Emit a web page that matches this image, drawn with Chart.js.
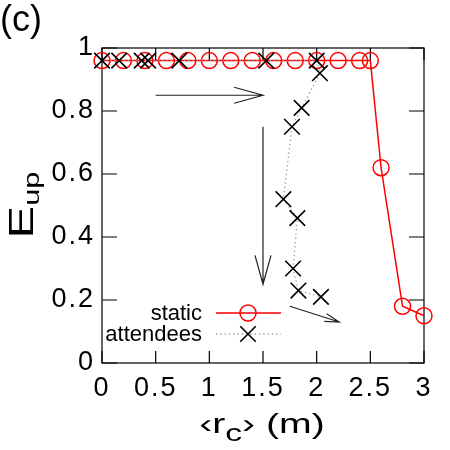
<!DOCTYPE html>
<html>
<head>
<meta charset="utf-8">
<script src="https://cdn.jsdelivr.net/npm/chart.js@4/dist/chart.umd.min.js"></script>
<style>
  html, body { margin: 0; padding: 0; background: #fff; }
  #wrap { width: 450px; height: 450px; }
</style>
</head>
<body>
<div id="wrap"><canvas id="eupChart"></canvas></div>
<script>
// <r_c> (m) and E_up for the static case
const rStatic = [0, 0.2, 0.4, 0.6, 0.8, 1.0, 1.2, 1.4, 1.6, 1.8, 2.0, 2.2, 2.4, 2.5, 2.6, 2.8, 3.0];
const eupStatic = [0.96, 0.96, 0.96, 0.96, 0.96, 0.96, 0.96, 0.96, 0.96, 0.96, 0.96, 0.96, 0.96, 0.96, 0.62, 0.18, 0.15];

// attendees
const rAttendees = [0, 0.16, 0.37, 0.43, 0.72, 1.53, 2.0, 2.03, 1.86, 1.77, 1.69, 1.82, 1.78, 1.83, 2.04];
const eupAttendees = [0.96, 0.96, 0.96, 0.96, 0.96, 0.96, 0.96, 0.92, 0.81, 0.75, 0.52, 0.46, 0.30, 0.23, 0.21];

const xTickValues = [0, 0.5, 1, 1.5, 2, 2.5, 3];
const xTickLabels = ['0', '0.5', '1', '1.5', '2', '2.5', '3'];
const yTickValues = [0, 0.2, 0.4, 0.6, 0.8, 1];
const yTickLabels = ['0', '0.2', '0.4', '0.6', '0.8', '1'];

// arrows on the plot, in data units: from (x0,y0) to (x1,y1)
const arrows = [
    { x0: 0.5, y0: 0.85, x1: 1.5, y1: 0.85, head: 30 },
    { x0: 1.5, y0: 0.75, x1: 1.5, y1: 0.25, head: 30 },
    { x0: 1.75, y0: 0.18, x1: 2.21, y1: 0.13, head: 15 }
];

const FONT = "'Liberation Sans', Arial, sans-serif";

// draws text stretched along its direction, like the gnuplot output
function wideText(ctx, str, x, y, size, sx) {
    ctx.save();
    ctx.font = size + 'px ' + FONT;
    ctx.translate(x, y);
    ctx.scale(sx, 1);
    ctx.fillText(str, 0, 0);
    ctx.restore();
    ctx.font = size + 'px ' + FONT;
    return ctx.measureText(str).width * sx;
}

function textWidth(ctx, str, size, sx) {
    ctx.font = size + 'px ' + FONT;
    return ctx.measureText(str).width * sx;
}

const boxPlugin = {
    id: 'box',
    beforeDraw(chart) {
        chart.ctx.letterSpacing = '2px';
    },
    beforeDatasetsDraw(chart) {
        const { ctx, chartArea: a, scales: { x, y } } = chart;
        ctx.save();
        ctx.strokeStyle = '#000';
        ctx.lineWidth = 1.2;
        ctx.strokeRect(a.left, a.top, a.right - a.left, a.bottom - a.top);
        ctx.beginPath();
        xTickValues.forEach(v => {
            const px = x.getPixelForValue(v);
            ctx.moveTo(px, a.bottom); ctx.lineTo(px, a.bottom - 12);
            ctx.moveTo(px, a.top); ctx.lineTo(px, a.top + 12);
        });
        yTickValues.forEach(v => {
            const py = y.getPixelForValue(v);
            ctx.moveTo(a.left, py); ctx.lineTo(a.left + 15, py);
            ctx.moveTo(a.right, py); ctx.lineTo(a.right - 15, py);
        });
        ctx.stroke();
        ctx.restore();
    },
    afterDraw(chart) {
        const { ctx, scales: { x, y } } = chart;
        ctx.save();
        ctx.letterSpacing = '0px';

        // arrows
        ctx.strokeStyle = '#222';
        ctx.lineWidth = 1.2;
        arrows.forEach(ar => {
            const ax = x.getPixelForValue(ar.x0), ay = y.getPixelForValue(ar.y0);
            const bx = x.getPixelForValue(ar.x1), by = y.getPixelForValue(ar.y1);
            const ang = Math.atan2(by - ay, bx - ax);
            const spread = 0.27;
            ctx.beginPath();
            ctx.moveTo(ax, ay); ctx.lineTo(bx, by);
            ctx.moveTo(bx - ar.head * Math.cos(ang - spread), by - ar.head * Math.sin(ang - spread));
            ctx.lineTo(bx, by);
            ctx.lineTo(bx - ar.head * Math.cos(ang + spread), by - ar.head * Math.sin(ang + spread));
            ctx.stroke();
        });

        // legend
        const ds = chart.data.datasets;
        ctx.fillStyle = '#000';
        ctx.textAlign = 'right';
        ctx.textBaseline = 'alphabetic';
        ctx.font = '22px ' + FONT;
        ctx.fillText('static', 202, 320);
        ctx.fillText('attendees', 202, 341);
        ctx.textAlign = 'left';

        ctx.strokeStyle = ds[0].borderColor;
        ctx.lineWidth = ds[0].borderWidth;
        ctx.beginPath(); ctx.moveTo(216, 313); ctx.lineTo(281, 313); ctx.stroke();
        ctx.fillStyle = 'rgba(0,0,0,0)';
        ctx.lineWidth = ds[0].pointBorderWidth;
        Chart.helpers.drawPoint(ctx, {
            pointStyle: 'circle', radius: ds[0].pointRadius, borderWidth: ds[0].pointBorderWidth, rotation: 0
        }, 248, 313);

        ctx.strokeStyle = ds[1].borderColor;
        ctx.lineWidth = ds[1].borderWidth;
        ctx.setLineDash(ds[1].borderDash);
        ctx.beginPath(); ctx.moveTo(216, 334); ctx.lineTo(281, 334); ctx.stroke();
        ctx.setLineDash([]);
        ctx.strokeStyle = '#000';
        ctx.lineWidth = ds[1].pointBorderWidth;
        Chart.helpers.drawPoint(ctx, {
            pointStyle: 'crossRot', radius: ds[1].pointRadius, borderWidth: ds[1].pointBorderWidth, rotation: 0
        }, 248, 334);

        // panel tag
        ctx.fillStyle = '#000';
        ctx.font = '36px ' + FONT;
        ctx.fillText('(c)', 0, 31);

        // x title: <r_c> (m)
        const sx = 1.4;
        const parts = [
            { t: '\u2039r', s: 28, dy: 0 },
            { t: 'c', s: 24, dy: 8 },
            { t: '\u203a (m)', s: 28, dy: 0 }
        ];
        let total = parts.reduce((w, p) => w + textWidth(ctx, p.t, p.s, sx), 0);
        let cx = 262 - total / 2;
        parts.forEach(p => { cx += wideText(ctx, p.t, cx, 433 + p.dy, p.s, sx); });

        // y title: E_up
        ctx.save();
        ctx.translate(33, 205);
        ctx.rotate(-Math.PI / 2);
        const yparts = [
            { t: 'E', s: 35, dy: 0 },
            { t: 'up', s: 22, dy: 6 }
        ];
        total = yparts.reduce((w, p) => w + textWidth(ctx, p.t, p.s, 1.4), 0);
        cx = -total / 2;
        yparts.forEach(p => { cx += wideText(ctx, p.t, cx, p.dy, p.s, 1.4); });
        ctx.restore();

        ctx.restore();
    }
};

const ctx = document.getElementById('eupChart').getContext('2d');

new Chart(ctx, {
    type: 'scatter',
    data: {
        datasets: [{
            label: 'static',
            data: rStatic.map((r, i) => ({ x: r, y: eupStatic[i] })),
            showLine: true,
            borderColor: '#ff0000',
            borderWidth: 1.5,
            pointStyle: 'circle',
            pointRadius: 8,
            pointBorderWidth: 1.5,
            pointBorderColor: '#ff0000',
            pointBackgroundColor: 'rgba(0,0,0,0)',
            clip: false,
            order: 1
        }, {
            label: 'attendees',
            data: rAttendees.map((r, i) => ({ x: r, y: eupAttendees[i] })),
            showLine: true,
            borderColor: '#999999',
            borderWidth: 1.3,
            borderDash: [1.3, 3],
            pointStyle: 'crossRot',
            pointRadius: 11,
            pointBorderWidth: 1.6,
            pointBorderColor: '#000000',
            clip: false,
            order: 0
        }]
    },
    options: {
        responsive: true,
        maintainAspectRatio: false,
        animation: false,
        events: [],
        layout: { padding: { top: 48, right: 26, left: 0, bottom: 0 } },
        plugins: {
            legend: { display: false },
            tooltip: { enabled: false }
        },
        scales: {
            x: {
                type: 'linear',
                min: 0,
                max: 3,
                grid: { display: false, drawTicks: false },
                border: { display: false },
                afterBuildTicks: scale => { scale.ticks = xTickValues.map(v => ({ value: v })); },
                afterFit: scale => { scale.height = 87; },
                ticks: {
                    color: '#000',
                    padding: 9,
                    maxRotation: 0,
                    autoSkip: false,
                    font: { family: FONT, size: 27 },
                    callback: (value, index) => xTickLabels[index]
                }
            },
            y: {
                min: 0,
                max: 1,
                grid: { display: false, drawTicks: false },
                border: { display: false },
                afterBuildTicks: scale => { scale.ticks = yTickValues.map(v => ({ value: v })); },
                afterFit: scale => { scale.width = 102; },
                ticks: {
                    color: '#000',
                    padding: 7,
                    autoSkip: false,
                    font: { family: FONT, size: 27 },
                    callback: (value, index) => yTickLabels[index]
                }
            }
        }
    },
    plugins: [boxPlugin]
});
</script>
</body>
</html>
